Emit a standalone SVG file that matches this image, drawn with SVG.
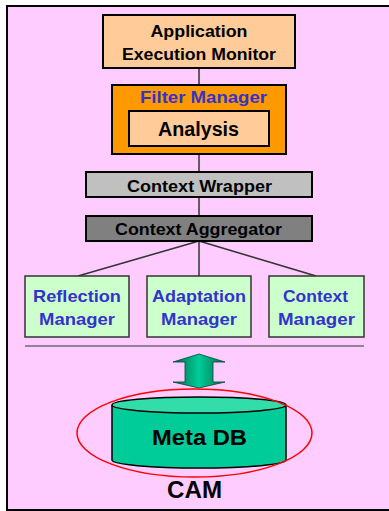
<svg xmlns="http://www.w3.org/2000/svg" width="389" height="511" viewBox="0 0 389 511">
  <style>
    .lbl { font-family: "Liberation Sans", Arial, sans-serif; font-weight: bold; text-anchor: middle; }
    .dark { fill: #000000; font-size: 17px; }
    .blue { fill: #3333CC; font-size: 17px; }
    .box { stroke: #000000; stroke-width: 2; }
    .peach { fill: #FFCC99; }
    .green { fill: #CCFFCC; stroke: #333333; stroke-width: 1.5; }
    .wire { stroke: #333333; stroke-width: 1.5; fill: none; }
  </style>
  <defs>
    <linearGradient id="arrowGrad" x1="0" y1="0" x2="1" y2="0">
      <stop offset="0" stop-color="#006a4a"/>
      <stop offset="0.5" stop-color="#00CC99"/>
      <stop offset="1" stop-color="#006a4a"/>
    </linearGradient>
  </defs>

  <!-- frame -->
  <rect x="7" y="6" width="390" height="504" fill="#FFCCFF" stroke="#000000" stroke-width="2"/>

  <!-- connectors -->
  <g id="connectors">
    <line class="wire" x1="199" y1="68" x2="199" y2="85"/>
    <line class="wire" x1="199" y1="154" x2="199" y2="172"/>
    <line class="wire" x1="199" y1="197" x2="199" y2="216"/>
    <line class="wire" x1="199" y1="241" x2="78" y2="276"/>
    <line class="wire" x1="199" y1="241" x2="199" y2="276"/>
    <line class="wire" x1="199" y1="241" x2="316" y2="276"/>
    <line x1="25" y1="346" x2="364" y2="346" stroke="#333333" stroke-width="1.2"/>
    <path d="M199,354 L225,362 L213,362 L213,382 L225,382 L199,388 L173,382 L185,382 L185,362 L173,362 Z" fill="url(#arrowGrad)" stroke="#004433" stroke-width="0.8"/>
  </g>

  <g id="app-monitor">
    <rect class="box peach" x="103" y="15" width="192" height="53"/>
    <text class="lbl dark" x="199" y="37" textLength="97" lengthAdjust="spacingAndGlyphs">Application</text>
    <text class="lbl dark" x="199" y="60" textLength="154" lengthAdjust="spacingAndGlyphs">Execution Monitor</text>
  </g>

  <g id="filter-manager">
    <rect class="box" x="112" y="85" width="174" height="69" fill="#FF9900"/>
    <text class="lbl blue" x="203.5" y="103" textLength="127" lengthAdjust="spacingAndGlyphs">Filter Manager</text>
    <g id="analysis">
      <rect class="box peach" x="129" y="111" width="140" height="35"/>
      <text class="lbl" x="198.5" y="136" font-size="20" textLength="81" lengthAdjust="spacingAndGlyphs">Analysis</text>
    </g>
  </g>

  <g id="context-wrapper">
    <rect class="box" x="86" y="172" width="226" height="25" fill="#C0C0C0"/>
    <text class="lbl dark" x="199.5" y="192" textLength="145" lengthAdjust="spacingAndGlyphs">Context Wrapper</text>
  </g>

  <g id="context-aggregator">
    <rect class="box" x="86" y="216" width="226" height="25" fill="#808080"/>
    <text class="lbl dark" x="198.5" y="235" textLength="167" lengthAdjust="spacingAndGlyphs">Context Aggregator</text>
  </g>

  <g id="reflection-manager">
    <rect class="green" x="25" y="276" width="104" height="61"/>
    <text class="lbl blue" x="77" y="302" textLength="88" lengthAdjust="spacingAndGlyphs">Reflection</text>
    <text class="lbl blue" x="77" y="325" textLength="76" lengthAdjust="spacingAndGlyphs">Manager</text>
  </g>

  <g id="adaptation-manager">
    <rect class="green" x="147" y="276" width="104" height="61"/>
    <text class="lbl blue" x="199" y="302" textLength="94" lengthAdjust="spacingAndGlyphs">Adaptation</text>
    <text class="lbl blue" x="199" y="325" textLength="76" lengthAdjust="spacingAndGlyphs">Manager</text>
  </g>

  <g id="context-manager">
    <rect class="green" x="269" y="276" width="95" height="61"/>
    <text class="lbl blue" x="315.5" y="302" textLength="65" lengthAdjust="spacingAndGlyphs">Context</text>
    <text class="lbl blue" x="316.5" y="325" textLength="77" lengthAdjust="spacingAndGlyphs">Manager</text>
  </g>

  <g id="meta-db">
    <path d="M112,405 L112,460 A87,8 0 0 0 286,460 L286,405" fill="#00CC99" stroke="#000000" stroke-width="1.5"/>
    <ellipse cx="199" cy="405" rx="87" ry="8" fill="#33DDAA" stroke="#000000" stroke-width="1.5"/>
    <text class="lbl" x="199.5" y="445" font-size="22" textLength="95" lengthAdjust="spacingAndGlyphs">Meta DB</text>
  </g>

  <g id="cam">
    <ellipse cx="194.5" cy="433" rx="117.5" ry="44" fill="none" stroke="#FF0000" stroke-width="1.5"/>
    <text class="lbl" x="194.5" y="498" font-size="24" textLength="55" lengthAdjust="spacingAndGlyphs">CAM</text>
  </g>
</svg>
